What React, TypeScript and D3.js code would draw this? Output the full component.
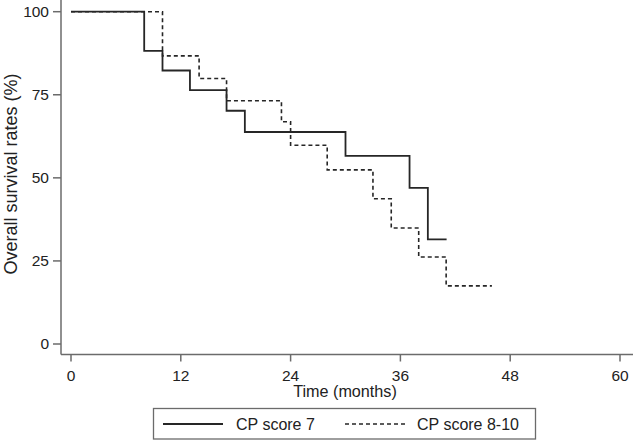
import React from 'react';
import * as d3 from 'd3';

// Kaplan-Meier steps (time in months, survival in %)
const cp7Times = [0, 8, 10, 13, 17, 19, 30, 37, 39, 41.05];
const cp7Values = [100, 88.2, 82.3, 76.4, 70.2, 63.8, 56.6, 47.0, 31.5, 31.5];

const cp810Times = [0, 10, 14, 17, 23, 24, 28, 33, 35, 38, 41, 46];
const cp810Values = [100, 86.7, 79.9, 73.2, 66.9, 59.8, 52.4, 43.7, 34.9, 26.2, 17.5, 17.5];

const xTicks = [0, 12, 24, 36, 48, 60];
const yTicks = [0, 25, 50, 75, 100];

const seriesNames = ['CP score 7', 'CP score 8-10'];

const W = 633;
const H = 442;
const FONT = '"Liberation Sans", Arial, sans-serif';

export default function App() {
  const x = d3.scaleLinear().domain([0, 60]).range([71, 620]);
  const y = d3.scaleLinear().domain([0, 100]).range([344, 11.7]);

  const axisX = 61;
  const axisY = 354.5;

  const line = d3
    .line<[number, number]>()
    .x(d => x(d[0]))
    .y(d => y(d[1]))
    .curve(d3.curveStepAfter);

  const cp7 = cp7Times.map((t, i) => [t, cp7Values[i]] as [number, number]);
  const cp810 = cp810Times.map((t, i) => [t, cp810Values[i]] as [number, number]);

  const axisColor = '#6b6b6b';
  const lineColor = '#262626';

  return (
    <div style={{ position: 'fixed', left: 0, top: 0 }}>
      <svg width={W} height={H} style={{ display: 'block', background: '#fff' }}>
        {/* axes */}
        <line x1={axisX} x2={axisX} y1={0} y2={axisY} stroke={axisColor} strokeWidth={1.5} />
        <line x1={axisX} x2={W} y1={axisY} y2={axisY} stroke={axisColor} strokeWidth={1.5} />

        {yTicks.map(t => (
          <g key={'y' + t}>
            <line x1={axisX - 8} x2={axisX} y1={y(t)} y2={y(t)} stroke={axisColor} strokeWidth={1.5} />
            <text
              x={49}
              y={y(t)}
              dy="0.35em"
              textAnchor="end"
              fontFamily={FONT}
              fontSize={15.5}
              fill="#222"
            >
              {t}
            </text>
          </g>
        ))}

        {xTicks.map(t => (
          <g key={'x' + t}>
            <line x1={x(t)} x2={x(t)} y1={axisY} y2={axisY + 7} stroke={axisColor} strokeWidth={1.5} />
            <text
              x={x(t)}
              y={381}
              textAnchor="middle"
              fontFamily={FONT}
              fontSize={15.5}
              fill="#222"
            >
              {t}
            </text>
          </g>
        ))}

        <text x={345} y={397} textAnchor="middle" fontFamily={FONT} fontSize={16.2} fill="#222">
          Time (months)
        </text>
        <text
          transform={`translate(17, 174) rotate(-90)`}
          textAnchor="middle"
          fontFamily={FONT}
          fontSize={18}
          fill="#222"
        >
          Overall survival rates (%)
        </text>

        {/* survival curves */}
        <path d={line(cp810) || ''} fill="none" stroke={lineColor} strokeWidth={1.6} strokeDasharray="4,3" />
        <path d={line(cp7) || ''} fill="none" stroke={lineColor} strokeWidth={1.8} />

        {/* legend */}
        <rect x={153.5} y={408.5} width={382} height={30.5} fill="#fff" stroke={axisColor} strokeWidth={1.3} />
        <line x1={163} x2={223} y1={424} y2={424} stroke={lineColor} strokeWidth={1.8} />
        <text x={236} y={424} dy="0.35em" fontFamily={FONT} fontSize={16} fill="#222">
          {seriesNames[0]}
        </text>
        <line x1={345} x2={405} y1={424} y2={424} stroke={lineColor} strokeWidth={1.6} strokeDasharray="4,3" />
        <text x={417} y={424} dy="0.35em" fontFamily={FONT} fontSize={16} fill="#222">
          {seriesNames[1]}
        </text>
      </svg>
    </div>
  );
}
